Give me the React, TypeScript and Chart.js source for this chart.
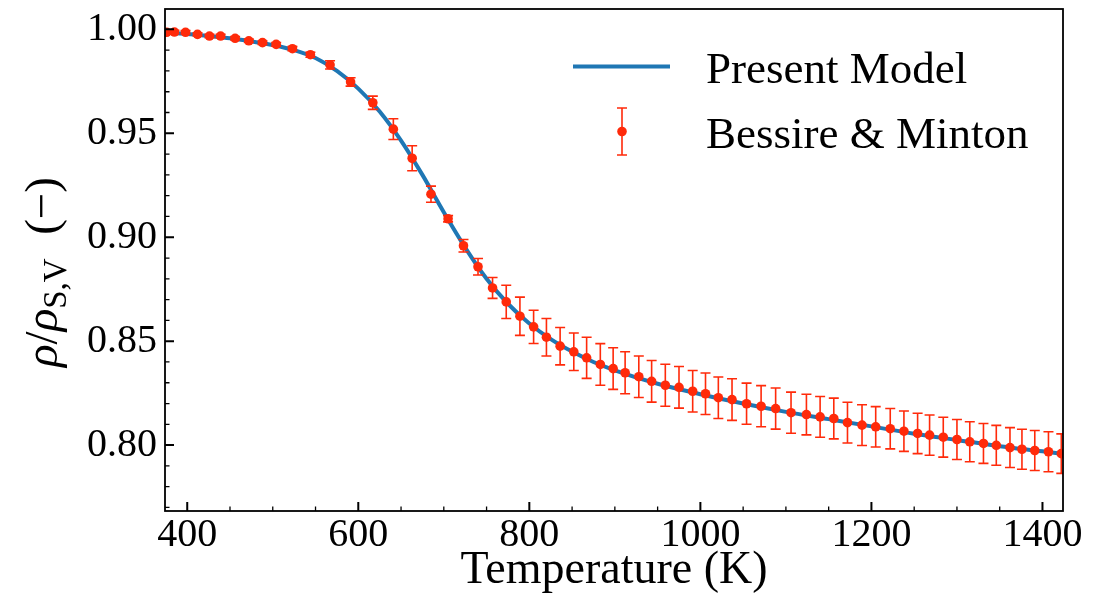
import React, { useEffect, useRef } from "react";
import { Chart, registerables } from "chart.js";

Chart.register(...registerables);

// ---------- data ----------
const expTemps = [
  376, 385, 398, 412, 426, 439, 456, 472, 488, 504,
  523, 544, 567, 591, 617, 641, 663, 685, 705, 723,
  740, 757, 773, 789, 805, 820, 836, 852, 867, 883,
  898, 912, 928, 943, 959, 975, 991, 1006, 1021, 1037,
  1054, 1071, 1088, 1106, 1124, 1140, 1156, 1172, 1189, 1205,
  1222, 1238, 1254, 1268, 1284, 1300, 1315, 1331, 1346, 1362,
  1376, 1391, 1407, 1422,
];
const expRho = [
  0.9986, 0.9987, 0.9986, 0.9976, 0.9968, 0.9968, 0.9957, 0.9945, 0.9936, 0.9928,
  0.9907, 0.9878, 0.9829, 0.9747, 0.9647, 0.952, 0.938, 0.9207, 0.9089, 0.8959,
  0.8858, 0.8756, 0.8689, 0.862, 0.8569, 0.8519, 0.8476, 0.8449, 0.842, 0.8388,
  0.8368, 0.8348, 0.8329, 0.8307, 0.8288, 0.8278, 0.8259, 0.8247, 0.8228, 0.8219,
  0.8199, 0.8187, 0.8176, 0.8156, 0.8147, 0.8136, 0.8128, 0.8108, 0.8096, 0.8088,
  0.8079, 0.8067, 0.8056, 0.8048, 0.8038, 0.8027, 0.8016, 0.8008, 0.7999, 0.7988,
  0.798, 0.7974, 0.7968, 0.7959,
];
const expErr = [
  0.0008, 0.0008, 0.0008, 0.0008, 0.0008, 0.0008, 0.0008, 0.0008, 0.0008, 0.0009,
  0.001, 0.0012, 0.002, 0.002, 0.0032, 0.005, 0.006, 0.0039, 0.0015, 0.003,
  0.004, 0.005, 0.008, 0.0092, 0.008, 0.009, 0.009, 0.009, 0.0099, 0.01,
  0.01, 0.0101, 0.01, 0.01, 0.0101, 0.01, 0.01, 0.01, 0.01, 0.01,
  0.0099, 0.0099, 0.0099, 0.0099, 0.0098, 0.0098, 0.0098, 0.0098, 0.0098, 0.0097,
  0.0097, 0.0097, 0.0097, 0.0097, 0.0096, 0.0096, 0.0096, 0.0096, 0.0096, 0.0096,
  0.0096, 0.0096, 0.0096, 0.0095,
];

const modelTemps = [
  370, 400, 425, 450, 475, 500, 525, 550, 575, 600,
  625, 650, 675, 700, 725, 750, 775, 800, 825, 850,
  875, 900, 950, 1000, 1050, 1100, 1150, 1200, 1250, 1300,
  1350, 1400, 1430,
];
const modelRho = [
  0.9985, 0.9978, 0.9968, 0.9957, 0.9942, 0.9925, 0.99, 0.9862, 0.98, 0.9715,
  0.9605, 0.9465, 0.93, 0.912, 0.895, 0.88, 0.868, 0.8585, 0.851, 0.845,
  0.84, 0.836, 0.8295, 0.8245, 0.82, 0.816, 0.8125, 0.809, 0.8055, 0.8025,
  0.7995, 0.797, 0.7954,
];

const xMajorTicks = [400, 600, 800, 1000, 1200, 1400];
const yMajorTicks = [0.8, 0.85, 0.9, 0.95, 1.0];
const xMinorStep = 50;
const yMinorStep = 0.01;

const X_MIN = 374;
const X_MAX = 1424;
const Y_MIN = 0.7683;
const Y_MAX = 1.0098;

const legendLabels = ["Present Model", "Bessire & Minton"];

const BLUE = "#1f77b4";
const RED = "#ff2a0a";
const FONT = "'Liberation Serif', 'Times New Roman', serif";

// ---------- plugins ----------
const errorBarPlugin = {
  id: "errorBars",
  beforeDatasetDraw(chart: any, args: any) {
    if (args.index !== 1) return;
    const { ctx, chartArea } = chart;
    const x = chart.scales.x;
    const y = chart.scales.y;
    ctx.save();
    ctx.beginPath();
    ctx.rect(chartArea.left, chartArea.top, chartArea.right - chartArea.left, chartArea.bottom - chartArea.top);
    ctx.clip();
    ctx.strokeStyle = RED;
    ctx.lineWidth = 1.6;
    const cap = 5;
    for (let i = 0; i < expTemps.length; i++) {
      const px = x.getPixelForValue(expTemps[i]);
      const y1 = y.getPixelForValue(expRho[i] + expErr[i]);
      const y2 = y.getPixelForValue(expRho[i] - expErr[i]);
      ctx.beginPath();
      ctx.moveTo(px, y1);
      ctx.lineTo(px, y2);
      ctx.moveTo(px - cap, y1);
      ctx.lineTo(px + cap, y1);
      ctx.moveTo(px - cap, y2);
      ctx.lineTo(px + cap, y2);
      ctx.stroke();
    }
    ctx.restore();
  },
};

const framePlugin = {
  id: "frame",
  afterDraw(chart: any) {
    const { ctx, chartArea } = chart;
    const { left, right, top, bottom } = chartArea;
    const x = chart.scales.x;
    const y = chart.scales.y;
    ctx.save();
    ctx.strokeStyle = "#000";
    // minor ticks
    ctx.lineWidth = 1.3;
    ctx.beginPath();
    const xStart = Math.ceil(X_MIN / xMinorStep) * xMinorStep;
    for (let v = xStart; v <= X_MAX; v += xMinorStep) {
      if (xMajorTicks.includes(v)) continue;
      const p = x.getPixelForValue(v);
      ctx.moveTo(p, bottom);
      ctx.lineTo(p, bottom - 4.5);
    }
    const yStart = Math.ceil(Y_MIN / yMinorStep);
    for (let k = yStart; k * yMinorStep <= Y_MAX; k++) {
      const v = Math.round(k * yMinorStep * 100) / 100;
      if (yMajorTicks.some((t) => Math.abs(t - v) < 1e-6)) continue;
      const p = y.getPixelForValue(v);
      ctx.moveTo(left, p);
      ctx.lineTo(left + 4.5, p);
    }
    ctx.stroke();
    // major ticks
    ctx.lineWidth = 2;
    ctx.beginPath();
    for (const v of xMajorTicks) {
      const p = x.getPixelForValue(v);
      ctx.moveTo(p, bottom);
      ctx.lineTo(p, bottom - 9);
    }
    for (const v of yMajorTicks) {
      const p = y.getPixelForValue(v);
      ctx.moveTo(left, p);
      ctx.lineTo(left + 9, p);
    }
    ctx.stroke();
    // frame
    ctx.lineWidth = 1.8;
    ctx.strokeRect(left, top, right - left, bottom - top);

    // y-axis title with subscript
    ctx.fillStyle = "#000";
    ctx.textBaseline = "alphabetic";
    ctx.textAlign = "left";
    const big = 47;
    const small = 33;
    const parts = [
      { t: "ρ", f: `italic ${big}px ${FONT}`, dy: 0 },
      { t: "/", f: `${big}px ${FONT}`, dy: 0 },
      { t: "ρ", f: `italic ${big}px ${FONT}`, dy: 0 },
      { t: "S,V", f: `${small}px ${FONT}`, dy: 9 },
      { t: "  (−)", f: `${big}px ${FONT}`, dy: 0 },
    ];
    let total = 0;
    const widths: number[] = [];
    for (const p of parts) {
      ctx.font = p.f;
      const w = ctx.measureText(p.t).width;
      widths.push(w);
      total += w;
    }
    ctx.translate(57, 272);
    ctx.rotate(-Math.PI / 2);
    let cx = -total / 2;
    parts.forEach((p, i) => {
      ctx.font = p.f;
      ctx.fillText(p.t, cx, p.dy);
      cx += widths[i];
    });
    ctx.restore();

    // legend
    ctx.save();
    ctx.strokeStyle = BLUE;
    ctx.lineWidth = 4;
    ctx.beginPath();
    ctx.moveTo(573, 66.5);
    ctx.lineTo(670, 66.5);
    ctx.stroke();
    ctx.strokeStyle = RED;
    ctx.lineWidth = 1.6;
    ctx.beginPath();
    ctx.moveTo(622, 108);
    ctx.lineTo(622, 155);
    ctx.moveTo(617, 108);
    ctx.lineTo(627, 108);
    ctx.moveTo(617, 155);
    ctx.lineTo(627, 155);
    ctx.stroke();
    ctx.fillStyle = RED;
    ctx.beginPath();
    ctx.arc(622, 131.5, 4.8, 0, Math.PI * 2);
    ctx.fill();
    ctx.fillStyle = "#000";
    ctx.font = `45px ${FONT}`;
    ctx.textAlign = "left";
    ctx.textBaseline = "alphabetic";
    ctx.fillText(legendLabels[0], 706, 83);
    ctx.fillText(legendLabels[1], 706, 148);
    ctx.restore();
  },
};

export default function App() {
  const canvasRef = useRef<HTMLCanvasElement | null>(null);

  useEffect(() => {
    document.body.style.margin = "0";
    const canvas = canvasRef.current;
    if (!canvas) return;
    const chart = new Chart(canvas, {
      type: "scatter",
      data: {
        datasets: [
          {
            type: "line",
            label: legendLabels[0],
            data: modelTemps.map((t, i) => ({ x: t, y: modelRho[i] })),
            borderColor: BLUE,
            borderWidth: 4,
            pointRadius: 0,
            fill: false,
            cubicInterpolationMode: "monotone",
            order: 2,
          },
          {
            type: "scatter",
            label: legendLabels[1],
            data: expTemps.map((t, i) => ({ x: t, y: expRho[i] })),
            backgroundColor: RED,
            borderWidth: 0,
            pointRadius: 4.8,
            order: 1,
          },
        ],
      },
      options: {
        animation: false,
        responsive: false,
        maintainAspectRatio: false,
        layout: { padding: { left: 0, top: 9, right: 51, bottom: 0 } },
        plugins: {
          legend: { display: false },
          tooltip: { enabled: false },
        },
        scales: {
          x: {
            type: "linear",
            min: X_MIN,
            max: X_MAX,
            afterBuildTicks: (s: any) => {
              s.ticks = xMajorTicks.map((v) => ({ value: v }));
            },
            afterFit: (s: any) => {
              s.height = 94;
              s.paddingLeft = 0;
              s.paddingRight = 0;
            },
            grid: { display: false, drawTicks: false },
            border: { display: false },
            ticks: {
              color: "#000",
              font: { family: FONT, size: 40 },
              padding: 0,
              maxRotation: 0,
              autoSkip: false,
              callback: (v: any) => String(v),
            },
            title: {
              display: true,
              text: "Temperature (K)",
              color: "#000",
              font: { family: FONT, size: 46 },
              padding: { top: 0, bottom: 6 },
            },
          },
          y: {
            type: "linear",
            min: Y_MIN,
            max: Y_MAX,
            afterBuildTicks: (s: any) => {
              s.ticks = yMajorTicks.map((v) => ({ value: v }));
            },
            afterFit: (s: any) => {
              s.width = 165;
              s.paddingTop = 0;
              s.paddingBottom = 0;
            },
            grid: { display: false, drawTicks: false },
            border: { display: false },
            ticks: {
              color: "#000",
              font: { family: FONT, size: 40 },
              padding: 8,
              autoSkip: false,
              callback: (v: any) => Number(v).toFixed(2),
            },
          },
        },
      },
      plugins: [errorBarPlugin, framePlugin],
    });
    return () => chart.destroy();
  }, []);

  return (
    <div style={{ width: 1114, height: 605, background: "#fff" }}>
      <canvas ref={canvasRef} width={1114} height={605} />
    </div>
  );
}
